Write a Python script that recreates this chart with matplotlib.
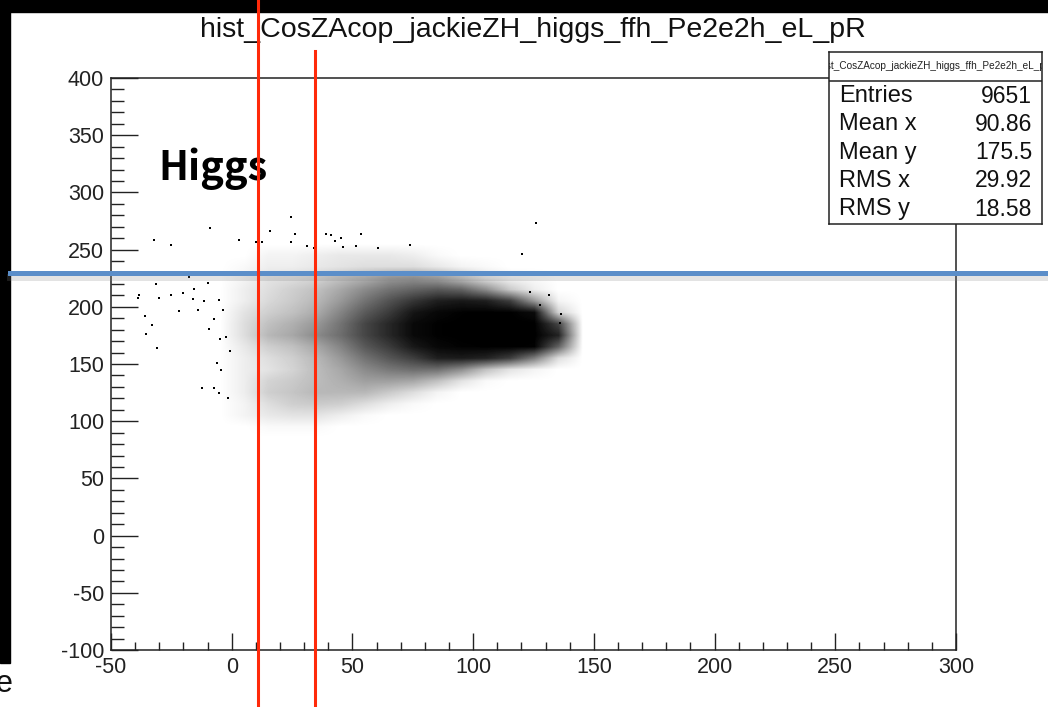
"""ROOT-style scatter of CosZ vs Acop for the Higgs sample, with cut lines."""

import numpy as np
import matplotlib
matplotlib.use("Agg")
import matplotlib.pyplot as plt
import matplotlib.patheffects as pe
import matplotlib.transforms as mtransforms
from matplotlib.lines import Line2D
from matplotlib.patches import Rectangle
from matplotlib.ticker import MultipleLocator

plt.rcParams['font.family'] = ['Liberation Sans', 'DejaVu Sans']
plt.rcParams['axes.unicode_minus'] = False

title = "hist_CosZAcop_jackieZH_higgs_ffh_Pe2e2h_eL_pR"

# estimated entries per 10x10 cell
x_edges = [-10, 150]        # columns: -10,0,10,...,140
y_edges = [80, 260]         # rows top->bottom: 250,240,...,80
cell_counts = [
    [0, 0, 0, 0, 0, 0, 0, 0, 0, 0, 0, 0, 0, 0, 0, 0],
    [0, 0, 2, 2, 3, 4, 4, 4, 3, 1, 0, 0, 0, 0, 0, 0],
    [0, 1, 3, 3, 4, 5, 6, 6, 6, 4, 2, 1, 0, 0, 0, 0],
    [0, 2, 5, 6, 8, 12, 16, 22, 24, 20, 12, 5, 2, 1, 0, 0],
    [0, 3, 6, 9, 12, 18, 26, 34, 40, 45, 40, 25, 10, 3, 0, 0],
    [0, 3, 7, 10, 14, 22, 34, 48, 66, 90, 100, 90, 60, 22, 2, 0],
    [0, 5, 9, 12, 17, 28, 44, 62, 105, 150, 200, 240, 230, 130, 8, 0],
    [0, 6, 12, 16, 22, 34, 55, 80, 140, 200, 260, 320, 350, 300, 55, 0],
    [0, 6, 14, 18, 26, 36, 55, 80, 140, 200, 260, 320, 360, 330, 85, 0],
    [0, 4, 9, 12, 18, 28, 45, 62, 100, 150, 190, 220, 240, 190, 40, 0],
    [0, 3, 6, 9, 14, 22, 34, 46, 60, 90, 95, 85, 60, 30, 6, 0],
    [0, 3, 5, 8, 13, 18, 26, 32, 36, 35, 25, 12, 5, 2, 0, 0],
    [0, 3, 8, 10, 13, 16, 20, 20, 18, 12, 5, 1, 0, 0, 0, 0],
    [0, 3, 9, 11, 14, 14, 14, 10, 6, 2, 0, 0, 0, 0, 0, 0],
    [0, 2, 6, 9, 10, 9, 6, 3, 1, 0, 0, 0, 0, 0, 0, 0],
    [0, 2, 4, 5, 5, 3, 1, 0, 0, 0, 0, 0, 0, 0, 0, 0],
    [0, 0, 1, 1, 1, 0, 0, 0, 0, 0, 0, 0, 0, 0, 0, 0],
    [0, 0, 0, 0, 0, 0, 0, 0, 0, 0, 0, 0, 0, 0, 0, 0],
]

# isolated entries outside the grid
out_x = [-32.2, -25.3, -8.9, 3.2, 10.1, 12.7, 15.8, 24.6, 24.6, 26.4, 31.2, 33.9,
         39.0, 41.2, 42.6, 45.3, 46.0, 53.4, 51.6, 73.7, 60.6, 126.0, 120.3,
         131.5, 123.5, 127.7, 136.6, 135.9,
         -39.0, -38.3, -36.0, -35.3, -33.2, -31.0, -30.3, -31.4, -25.2, -22.0,
         -20.1, -15.9, -15.8, -13.8, -11.4, -10.0, -9.6, -7.5, -6.1, -5.1, -4.7,
         -4.5, -3.6, -2.4, -1.7, -0.9, -12.1, -7.2, -5.1, -17.6]
out_y = [258.4, 254.3, 268.9, 258.1, 256.6, 256.6, 266.0, 278.2, 256.9, 263.3, 252.9, 251.5,
         263.3, 262.7, 257.5, 260.0, 252.3, 263.6, 252.9, 253.8, 251.5, 273.0, 246.4,
         210.0, 213.0, 202.0, 194.0, 186.0,
         207.4, 210.3, 191.9, 175.9, 184.0, 164.2, 207.9, 219.8, 210.3, 196.3,
         211.7, 206.5, 215.5, 197.2, 205.0, 221.0, 180.2, 189.8, 150.5, 205.9, 171.5,
         144.7, 197.2, 173.8, 120.0, 161.0, 129.3, 129.3, 124.9, 226.2]

stat_names = ["Entries", "Mean x", "Mean y", "RMS x", "RMS y"]
stat_values = ["9651", "90.86", "175.5", "29.92", "18.58"]

cut_x = [10.8, 34.3]
cut_top = [1.14, 1.048]     # axes fraction where each red line stops
cut_y = 229.5

fig = plt.figure(figsize=(10.48, 7.07), dpi=100)
ax = fig.add_axes([0.1059, 0.0806, 0.8063, 0.809])

# dot coverage of each cell -> grey level
counts = np.array(cell_counts, dtype=float)
cover = 1.0 - np.exp(-counts * 6.5 / 276.0)
ax.imshow(cover, extent=[x_edges[0], x_edges[1], y_edges[0], y_edges[1]],
          origin='upper', cmap='gray_r', vmin=0, vmax=1,
          interpolation='bilinear', aspect='auto', zorder=1)
ax.scatter(out_x, out_y, s=2.5, marker='s', c='black', linewidths=0, zorder=2)

ax.set_xlim(-50, 300)
ax.set_ylim(-100, 400)
ax.xaxis.set_major_locator(MultipleLocator(50))
ax.xaxis.set_minor_locator(MultipleLocator(10))
ax.yaxis.set_major_locator(MultipleLocator(50))
ax.yaxis.set_minor_locator(MultipleLocator(10))
ax.tick_params(axis='both', which='both', direction='in', colors='#222',
               width=1.0, labelsize=15.5, pad=5)
ax.tick_params(axis='y', which='major', length=19.5)
ax.tick_params(axis='y', which='minor', length=9.5)
ax.tick_params(axis='x', which='major', length=12.5)
ax.tick_params(axis='x', which='minor', length=6)
for sp in ax.spines.values():
    sp.set_linewidth(1.1)
    sp.set_color('#222')

fig.text(0.508, 0.957, title, ha='center', va='center', fontsize=20.5, color='#111')

# stats box
sbox = fig.add_axes([0.791, 0.6832, 0.2033, 0.2432])
sbox.set_xlim(0, 1)
sbox.set_ylim(0, 1)
sbox.set_xticks([])
sbox.set_yticks([])
for sp in sbox.spines.values():
    sp.set_linewidth(1.1)
    sp.set_color('#222')
sbox.axhline(0.831, color='#222', lw=1.1)
sbox.text(0.5, 0.916, title, ha='center', va='center', fontsize=7.2,
          color='#222', clip_on=True)
row_y = [0.744, 0.581, 0.413, 0.25, 0.087]
for name, val, ry in zip(stat_names, stat_values, row_y):
    sbox.text(0.047, ry, name, ha='left', va='center', fontsize=17, color='#111')
    sbox.text(0.953, ry, val, ha='right', va='center', fontsize=16.5, color='#111')

# screenshot frame
fig.patches.append(Rectangle((0, 1 - 12 / 707), 1, 12 / 707, transform=fig.transFigure,
                             color='black', zorder=3))
fig.patches.append(Rectangle((0, 1 - 663 / 707), 10 / 1048, 663 / 707,
                             transform=fig.transFigure, color='black', zorder=3))
fig.text(-0.004, 0.012, 'e', fontsize=22, color='#111', va='bottom')

fig.text(0.1508, 0.7454, "Higgs", fontsize=28.5, fontweight='bold', color='black',
         family=['Noto Sans CJK JP', 'DejaVu Sans'], va='baseline', zorder=4)

# cut lines drawn over everything
blend_x = mtransforms.blended_transform_factory(ax.transData, fig.transFigure)
blend_y = mtransforms.blended_transform_factory(fig.transFigure, ax.transData)
fig.lines.append(Line2D([10 / 1048, 1], [cut_y, cut_y], transform=blend_y,
                        color='#5b8ec9', lw=3.6, zorder=5,
                        path_effects=[pe.SimpleLineShadow(offset=(0, -2.5), shadow_color='gray',
                                                          alpha=0.22, linewidth=5),
                                      pe.Normal()]))
pos = ax.get_position()
for cx, top in zip(cut_x, cut_top):
    y_top = min(1.0, pos.y0 + top * pos.height)
    fig.lines.append(Line2D([cx, cx], [0, y_top], transform=blend_x,
                            color='#ff2a0a', lw=2.2, zorder=6))

fig.savefig('out.png', dpi=100)
